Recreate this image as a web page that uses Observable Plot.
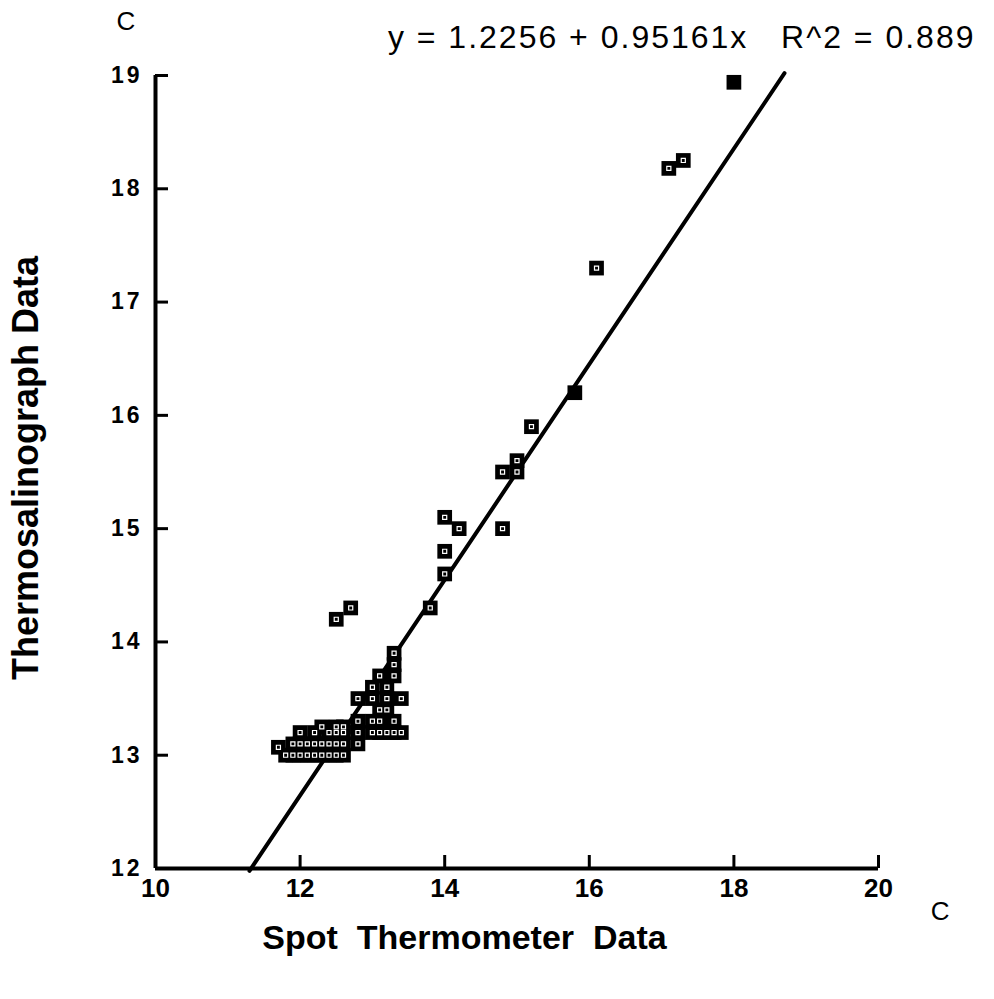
<!DOCTYPE html>
<html>
<head>
<meta charset="utf-8">
<script src="https://cdn.jsdelivr.net/npm/d3@7"></script>
<script src="https://cdn.jsdelivr.net/npm/@observablehq/plot@0.6"></script>
<style>
  html, body { margin: 0; padding: 0; background: #fff; }
  #chart { width: 994px; height: 999px; }
</style>
</head>
<body>
<div id="chart"></div>
<script>
// Spot thermometer (x) vs thermosalinograph (y), °C
const spotTemp = [
  18.0, 17.1, 17.3, 16.1, 15.8, 15.2, 15.0, 15.0, 14.8, 14.8, 14.0, 14.2, 14.0, 14.0, 13.8, 12.7, 12.5,
  11.8, 11.9, 12.0, 12.1, 12.2, 12.3, 12.4, 12.5, 12.6,
  11.7,
  11.9, 12.0, 12.1, 12.2, 12.3, 12.4, 12.5, 12.6, 12.8,
  12.0, 12.2, 12.4, 12.5, 12.6, 12.8, 13.0, 13.1, 13.2, 13.3, 13.4,
  12.3, 12.5, 12.6,
  12.8, 13.0, 13.1, 13.3,
  13.1, 13.2,
  12.8, 13.0, 13.2, 13.4,
  13.0, 13.2,
  13.1, 13.3,
  13.3,
  13.3
];
const thermoTemp = [
  18.94, 18.18, 18.25, 17.3, 16.2, 15.9, 15.6, 15.5, 15.5, 15.0, 15.1, 15.0, 14.8, 14.6, 14.3, 14.3, 14.2,
  13.0, 13.0, 13.0, 13.0, 13.0, 13.0, 13.0, 13.0, 13.0,
  13.07,
  13.1, 13.1, 13.1, 13.1, 13.1, 13.1, 13.1, 13.1, 13.1,
  13.2, 13.2, 13.2, 13.2, 13.2, 13.2, 13.2, 13.2, 13.2, 13.2, 13.2,
  13.25, 13.25, 13.25,
  13.3, 13.3, 13.3, 13.3,
  13.4, 13.4,
  13.5, 13.5, 13.5, 13.5,
  13.6, 13.6,
  13.7, 13.7,
  13.8,
  13.9
];
// indices of markers that print fully solid
const solidIdx = [0, 4];

const intercept = 1.2256;
const slope = 0.95161;
const fitXRange = [11.3, 18.7];

const xTicks = [10, 12, 14, 16, 18, 20];
const yTicks = [12, 13, 14, 15, 16, 17, 18, 19];
const xDomain = [10, 20];
const yDomain = [12, 19];

const titleText = "y = 1.2256 + 0.95161x   R^2 = 0.889";
const xLabel = "Spot  Thermometer  Data";
const yLabel = "Thermosalinograph Data";
const unitText = "C";

const points = spotTemp.map((x, i) => ({x, y: thermoTemp[i], solid: solidIdx.includes(i)}));
const fitLine = fitXRange.map(x => ({x, y: intercept + slope * x}));

const chart = Plot.plot({
  width: 994,
  height: 999,
  marginLeft: 155,
  marginRight: 116,
  marginTop: 75,
  marginBottom: 131,
  style: {fontFamily: "'Liberation Sans', Arial, sans-serif", color: "#000", background: "#fff"},
  x: {domain: xDomain, axis: null},
  y: {domain: yDomain, axis: null},
  marks: [
    Plot.ruleX([xDomain[0]], {y1: yDomain[0], y2: yDomain[1], stroke: "#000", strokeWidth: 4}),
    Plot.ruleY([yDomain[0]], {x1: xDomain[0], x2: xDomain[1], stroke: "#000", strokeWidth: 4}),
    Plot.axisX(xTicks, {anchor: "bottom", label: null, tickSize: -13, tickPadding: 23, strokeWidth: 3,
      fontSize: 26, fontWeight: "bold", tickFormat: d => String(d)}),
    Plot.axisY(yTicks, {anchor: "left", label: null, tickSize: -13, tickPadding: 26, strokeWidth: 3,
      fontSize: 23, fontWeight: "bold", tickFormat: d => String(d)}),
    Plot.line(fitLine, {x: "x", y: "y", stroke: "#000", strokeWidth: 4}),
    Plot.dot(points, {x: "x", y: "y", symbol: "square", r: 8.3, fill: "#000", stroke: "none"}),
    Plot.dot(points.filter(d => !d.solid), {x: "x", y: "y", symbol: "square", r: 2.3, fill: "none", stroke: "#fff", strokeWidth: 1.2}),
    Plot.text([titleText], {frameAnchor: "top-right", textAnchor: "end", dx: 97, dy: -50,
      fontSize: 32, text: d => d, fill: "#000"}),
    Plot.text([unitText], {frameAnchor: "top-left", dx: -39, dy: -64, fontSize: 26, text: d => d, fill: "#000"}),
    Plot.text([unitText], {frameAnchor: "bottom-right", dx: 71, dy: 51, fontSize: 26, text: d => d, fill: "#000"}),
    Plot.text([xLabel], {frameAnchor: "bottom-left", textAnchor: "middle", dx: 309, dy: 80, fontSize: 34, fontWeight: "bold", text: d => d, fill: "#000"}),
    Plot.text([yLabel], {frameAnchor: "left", textAnchor: "middle", dx: -129, dy: -4, rotate: -90, fontSize: 36, fontWeight: "bold", text: d => d, fill: "#000"})
  ]
});
// letter spacing for the wide-set texts
const ySet = new Set(yTicks.map(String));
d3.select(chart).selectAll("text").each(function() {
  const t = this.textContent;
  if (t === titleText) {
    this.setAttribute("letter-spacing", "2");
  }
  const g = this.closest("g");
  const lab = g ? (g.getAttribute("aria-label") || "") : "";
  if (lab.startsWith("y-axis") && ySet.has(t)) {
    this.setAttribute("letter-spacing", "3");
  }
});
document.getElementById("chart").appendChild(chart);
</script>
</body>
</html>
